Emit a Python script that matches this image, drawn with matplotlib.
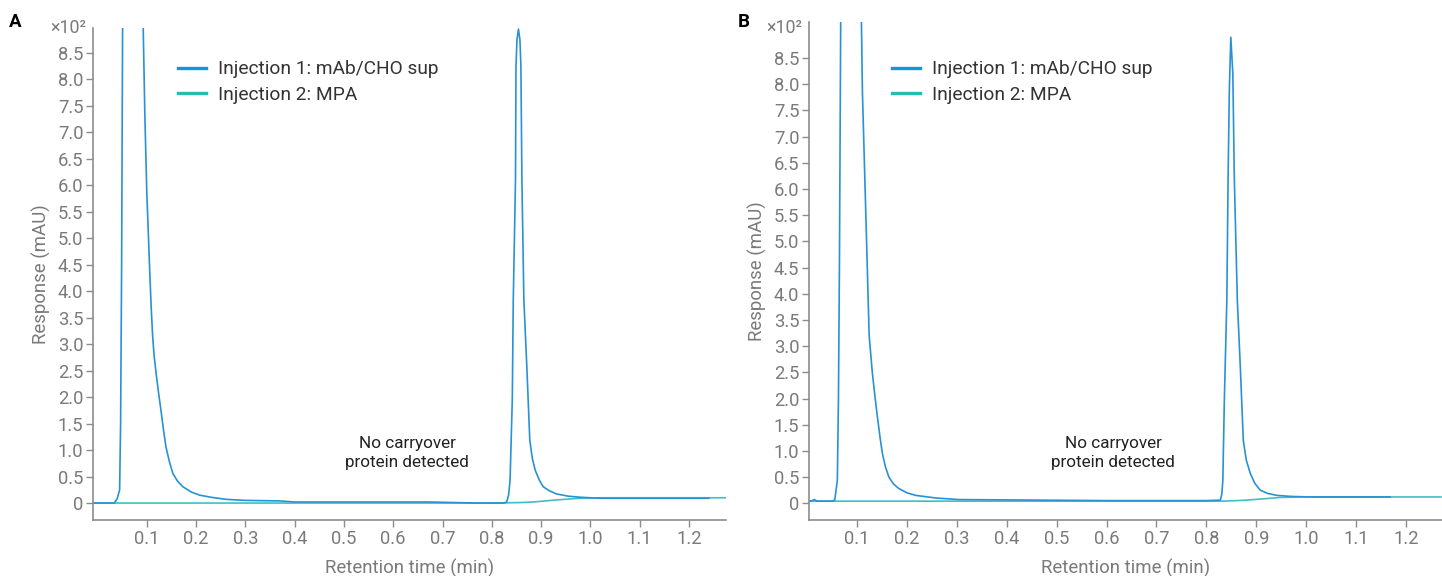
import matplotlib
matplotlib.use("Agg")
import matplotlib.pyplot as plt
from matplotlib.lines import Line2D

plt.rcParams["font.family"] = ["Roboto", "DejaVu Sans"]

BLUE = "#2792d5"
TEAL = "#3ec0c4"
GREY = "#7a7a7a"
W, H = 1442, 576

# panel A, injection 1 (mAb/CHO sup), x100 mAU
a_inj1_t = [-0.01, 0.030, 0.034, 0.040, 0.045, 0.047, 0.049, 0.051, 0.053, 0.072,
            0.092, 0.093, 0.096, 0.100, 0.106, 0.109, 0.112, 0.115, 0.119, 0.124,
            0.129, 0.134, 0.139, 0.146, 0.153, 0.162, 0.173, 0.19, 0.207, 0.23,
            0.261, 0.30, 0.37, 0.40, 0.67, 0.77, 0.80, 0.825, 0.830, 0.834,
            0.837, 0.8415, 0.8435, 0.848, 0.849, 0.851, 0.854, 0.857, 0.859, 0.861,
            0.865, 0.871, 0.877, 0.882, 0.888, 0.896, 0.904, 0.917, 0.932, 0.955,
            0.979, 1.02, 1.10, 1.24]
a_inj1_v = [0.0, 0.0, 0.0, 0.08, 0.25, 1.5, 4.4, 8.9, 9.6, 16.0,
            9.6, 8.9, 7.4, 5.9, 4.40, 3.70, 3.15, 2.78, 2.45, 2.08,
            1.74, 1.38, 1.06, 0.78, 0.56, 0.42, 0.31, 0.21, 0.15, 0.11,
            0.07, 0.05, 0.04, 0.02, 0.02, 0.0, 0.0, 0.0, 0.02, 0.15,
            0.43, 1.95, 3.83, 6.10, 8.24, 8.75, 8.95, 8.75, 8.24, 6.10,
            3.83, 2.57, 1.19, 0.85, 0.62, 0.44, 0.31, 0.23, 0.17, 0.13,
            0.11, 0.09, 0.09, 0.09]
# panel A, injection 2 (MPA)
a_inj2_t = [-0.01, 0.40, 0.80, 0.86, 0.884, 0.932, 0.979, 1.02, 1.10, 1.275]
a_inj2_v = [0.0, 0.0, 0.0, 0.01, 0.02, 0.06, 0.09, 0.10, 0.10, 0.10]

# panel B, injection 1
b_inj1_t = [0.004, 0.010, 0.015, 0.020, 0.050, 0.0555, 0.0608, 0.063, 0.065, 0.0675,
            0.070, 0.088, 0.106, 0.109, 0.111, 0.1205, 0.1245, 0.131, 0.136, 0.141,
            0.146, 0.151, 0.157, 0.164, 0.173, 0.184, 0.20, 0.218, 0.258, 0.305,
            0.458, 0.60, 0.80, 0.828, 0.831, 0.833, 0.836, 0.841, 0.8435, 0.846,
            0.849, 0.853, 0.856, 0.862, 0.868, 0.874, 0.880, 0.888, 0.897, 0.908,
            0.922, 0.941, 0.97, 1.008, 1.10, 1.168]
b_inj1_v = [0.04, 0.05, 0.07, 0.04, 0.04, 0.06, 0.44, 2.0, 4.6, 9.2,
            10.0, 16.0, 10.0, 9.2, 7.86, 4.6, 3.2, 2.48, 2.05, 1.65,
            1.28, 0.95, 0.70, 0.50, 0.37, 0.28, 0.20, 0.15, 0.10, 0.07,
            0.06, 0.05, 0.05, 0.06, 0.18, 0.44, 1.97, 3.88, 6.20, 7.90,
            8.90, 8.20, 6.20, 3.88, 2.60, 1.20, 0.82, 0.57, 0.38, 0.25,
            0.19, 0.15, 0.13, 0.12, 0.12, 0.12]
# panel B, injection 2
b_inj2_t = [0.004, 0.40, 0.83, 0.86, 0.881, 0.948, 0.994, 1.10, 1.27]
b_inj2_v = [0.04, 0.04, 0.04, 0.05, 0.06, 0.11, 0.12, 0.12, 0.12]

y_ticks = [i * 0.5 for i in range(18)]
y_labels = ["0"] + [f"{v:.1f}" for v in y_ticks[1:]]
x_ticks = [round(0.1 * i, 1) for i in range(1, 13)]
legend_labels = ["Injection 1: mAb/CHO sup", "Injection 2: MPA"]
note = "No carryover\nprotein detected"


def style(ax, xlim, ylim, legend_px, mult_y):
    ax.set_xlim(*xlim)
    ax.set_ylim(*ylim)
    for s in ("top", "right"):
        ax.spines[s].set_visible(False)
    for s in ("left", "bottom"):
        ax.spines[s].set_color("#8c8c8c")
        ax.spines[s].set_linewidth(1.2)
    ax.set_yticks(y_ticks)
    ax.set_yticklabels(y_labels)
    ax.set_xticks(x_ticks)
    ax.set_xticklabels([f"{v:.1f}" for v in x_ticks])
    ax.tick_params(colors="#8c8c8c", labelcolor=GREY, labelsize=13.2,
                   length=5, width=1.0, pad=2)
    ax.set_xlabel("Retention time (min)", color=GREY, fontsize=13.4, labelpad=8)
    ax.set_ylabel("Response (mAU)", color=GREY, fontsize=13.4, labelpad=5)
    ax.text(-0.01, mult_y, "×10²", transform=ax.transAxes, ha="right", va="center",
            color=GREY, fontsize=12.8)
    handles = [Line2D([], [], color=c, lw=2.4) for c in ("#0a98e0", "#25bdb3")]
    ax.legend(handles, legend_labels, loc="upper left",
              bbox_to_anchor=(legend_px[0] / W, 1 - legend_px[1] / H),
              bbox_transform=fig.transFigure,
              frameon=False, fontsize=13.8, handlelength=1.45, handletextpad=0.6,
              labelspacing=0.4, labelcolor="#333333")


fig = plt.figure(figsize=(W / 100, H / 100), dpi=100)
axA = fig.add_axes([93 / W, 56 / H, 633 / W, 492 / H])
axB = fig.add_axes([809 / W, 56 / H, 633 / W, 498 / H])

axA.plot(a_inj2_t, a_inj2_v, color=TEAL, lw=1.2)
axA.plot(a_inj1_t, a_inj1_v, color=BLUE, lw=1.2)
style(axA, (-0.009, 1.275), (-0.32, 8.97), (161, 43), 1.0)
axA.text(0.628, 0.94, note, ha="center", va="center", fontsize=12.3,
         color="#222222", linespacing=1.35)

axB.plot(b_inj2_t, b_inj2_v, color=TEAL, lw=1.2)
axB.plot(b_inj1_t, b_inj1_v, color=BLUE, lw=1.2)
style(axB, (0.004, 1.272), (-0.32, 9.19), (875, 43), 0.988)
axB.text(0.613, 0.96, note, ha="center", va="center", fontsize=12.3,
         color="#222222", linespacing=1.35)

fig.text(9 / W, 1 - 22 / H, "A", fontsize=13.5, fontweight="bold", va="center")
fig.text(738 / W, 1 - 22 / H, "B", fontsize=13.5, fontweight="bold", va="center")

fig.savefig("out.png", dpi=100)
